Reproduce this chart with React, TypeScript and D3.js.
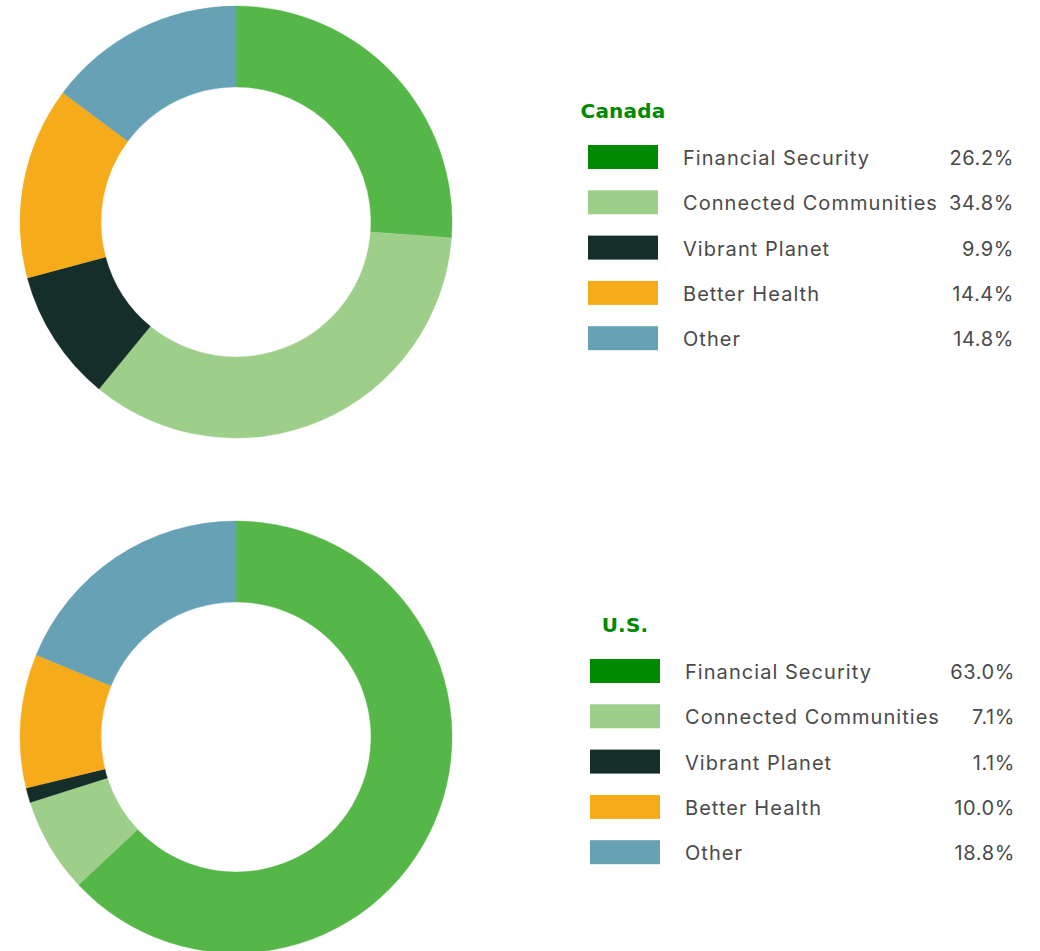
import React, { useMemo } from "react";
import * as d3 from "d3";

const categories = ["Financial Security", "Connected Communities", "Vibrant Planet", "Better Health", "Other"];
const canadaValues = [26.2, 34.8, 9.9, 14.4, 14.8];
const usValues = [63.0, 7.1, 1.1, 10.0, 18.8];
const regionTitles = ["Canada", "U.S."];

const pieColors = ["#55b748", "#9dcf8a", "#152e2a", "#f6ab1b", "#66a1b6"];
const legendColors = ["#008a00", "#9dcf8a", "#152e2a", "#f6ab1b", "#66a1b6"];

const WIDTH = 1040;
const HEIGHT = 951;
const OUTER_R = 216;
const INNER_R = 135;

type DonutProps = {
    title: string;
    values: number[];
    cx: number;
    cy: number;
    legendX: number;
    legendY: number;
    valueX: number;
};

const DonutBlock = ({ title, values, cx, cy, legendX, legendY, valueX }: DonutProps) => {
    const arcs = useMemo(() => {
        const pie = d3.pie<number>().sort(null).value((d) => d);
        return pie(values);
    }, [values]);

    const arcGen = d3.arc<d3.PieArcDatum<number>>()
        .innerRadius(INNER_R)
        .outerRadius(OUTER_R);

    // legend rows
    const rowY = d3.scaleBand<string>()
        .domain(categories)
        .range([legendY, legendY + 45.3 * categories.length]);

    return (
        <g>
            <g transform={"translate(" + cx + "," + cy + ")"}>
                {arcs.map((a, i) => (
                    <path key={i} d={arcGen(a) || ""} fill={pieColors[i]} stroke={pieColors[i]} strokeWidth={0.4} />
                ))}
            </g>
            <text
                x={legendX + 35}
                y={legendY - 27}
                textAnchor="middle"
                fill="#008a00"
                fontFamily="DejaVu Sans"
                fontWeight="bold"
                fontSize={20}
                letterSpacing={0.2}
            >
                {title}
            </text>
            {categories.map((c, i) => {
                const y = rowY(c) as number;
                return (
                    <g key={c}>
                        <rect x={legendX} y={y} width={70} height={24} fill={legendColors[i]} />
                        <text
                            x={legendX + 95}
                            y={y + 20}
                            fill="#4a4a4a"
                            fontFamily="Inter"
                            fontSize={20}
                            letterSpacing={1.05}
                        >
                            {c}
                        </text>
                        <text
                            x={valueX + 1}
                            y={y + 20}
                            textAnchor="end"
                            fill="#4a4a4a"
                            fontFamily="Inter"
                            fontSize={20}
                            letterSpacing={0.6}
                        >
                            {values[i].toFixed(1) + "%"}
                        </text>
                    </g>
                );
            })}
        </g>
    );
};

const App = () => {
    return (
        <svg
            width={WIDTH}
            height={HEIGHT}
            style={{ position: "absolute", left: 0, top: 0, display: "block" }}
        >
            <rect width={WIDTH} height={HEIGHT} fill="#ffffff" />
            <DonutBlock title={regionTitles[0]} values={canadaValues} cx={236} cy={222} legendX={588} legendY={145} valueX={1013} />
            <DonutBlock title={regionTitles[1]} values={usValues} cx={236} cy={737} legendX={590} legendY={659} valueX={1014} />
        </svg>
    );
};

export default App;
